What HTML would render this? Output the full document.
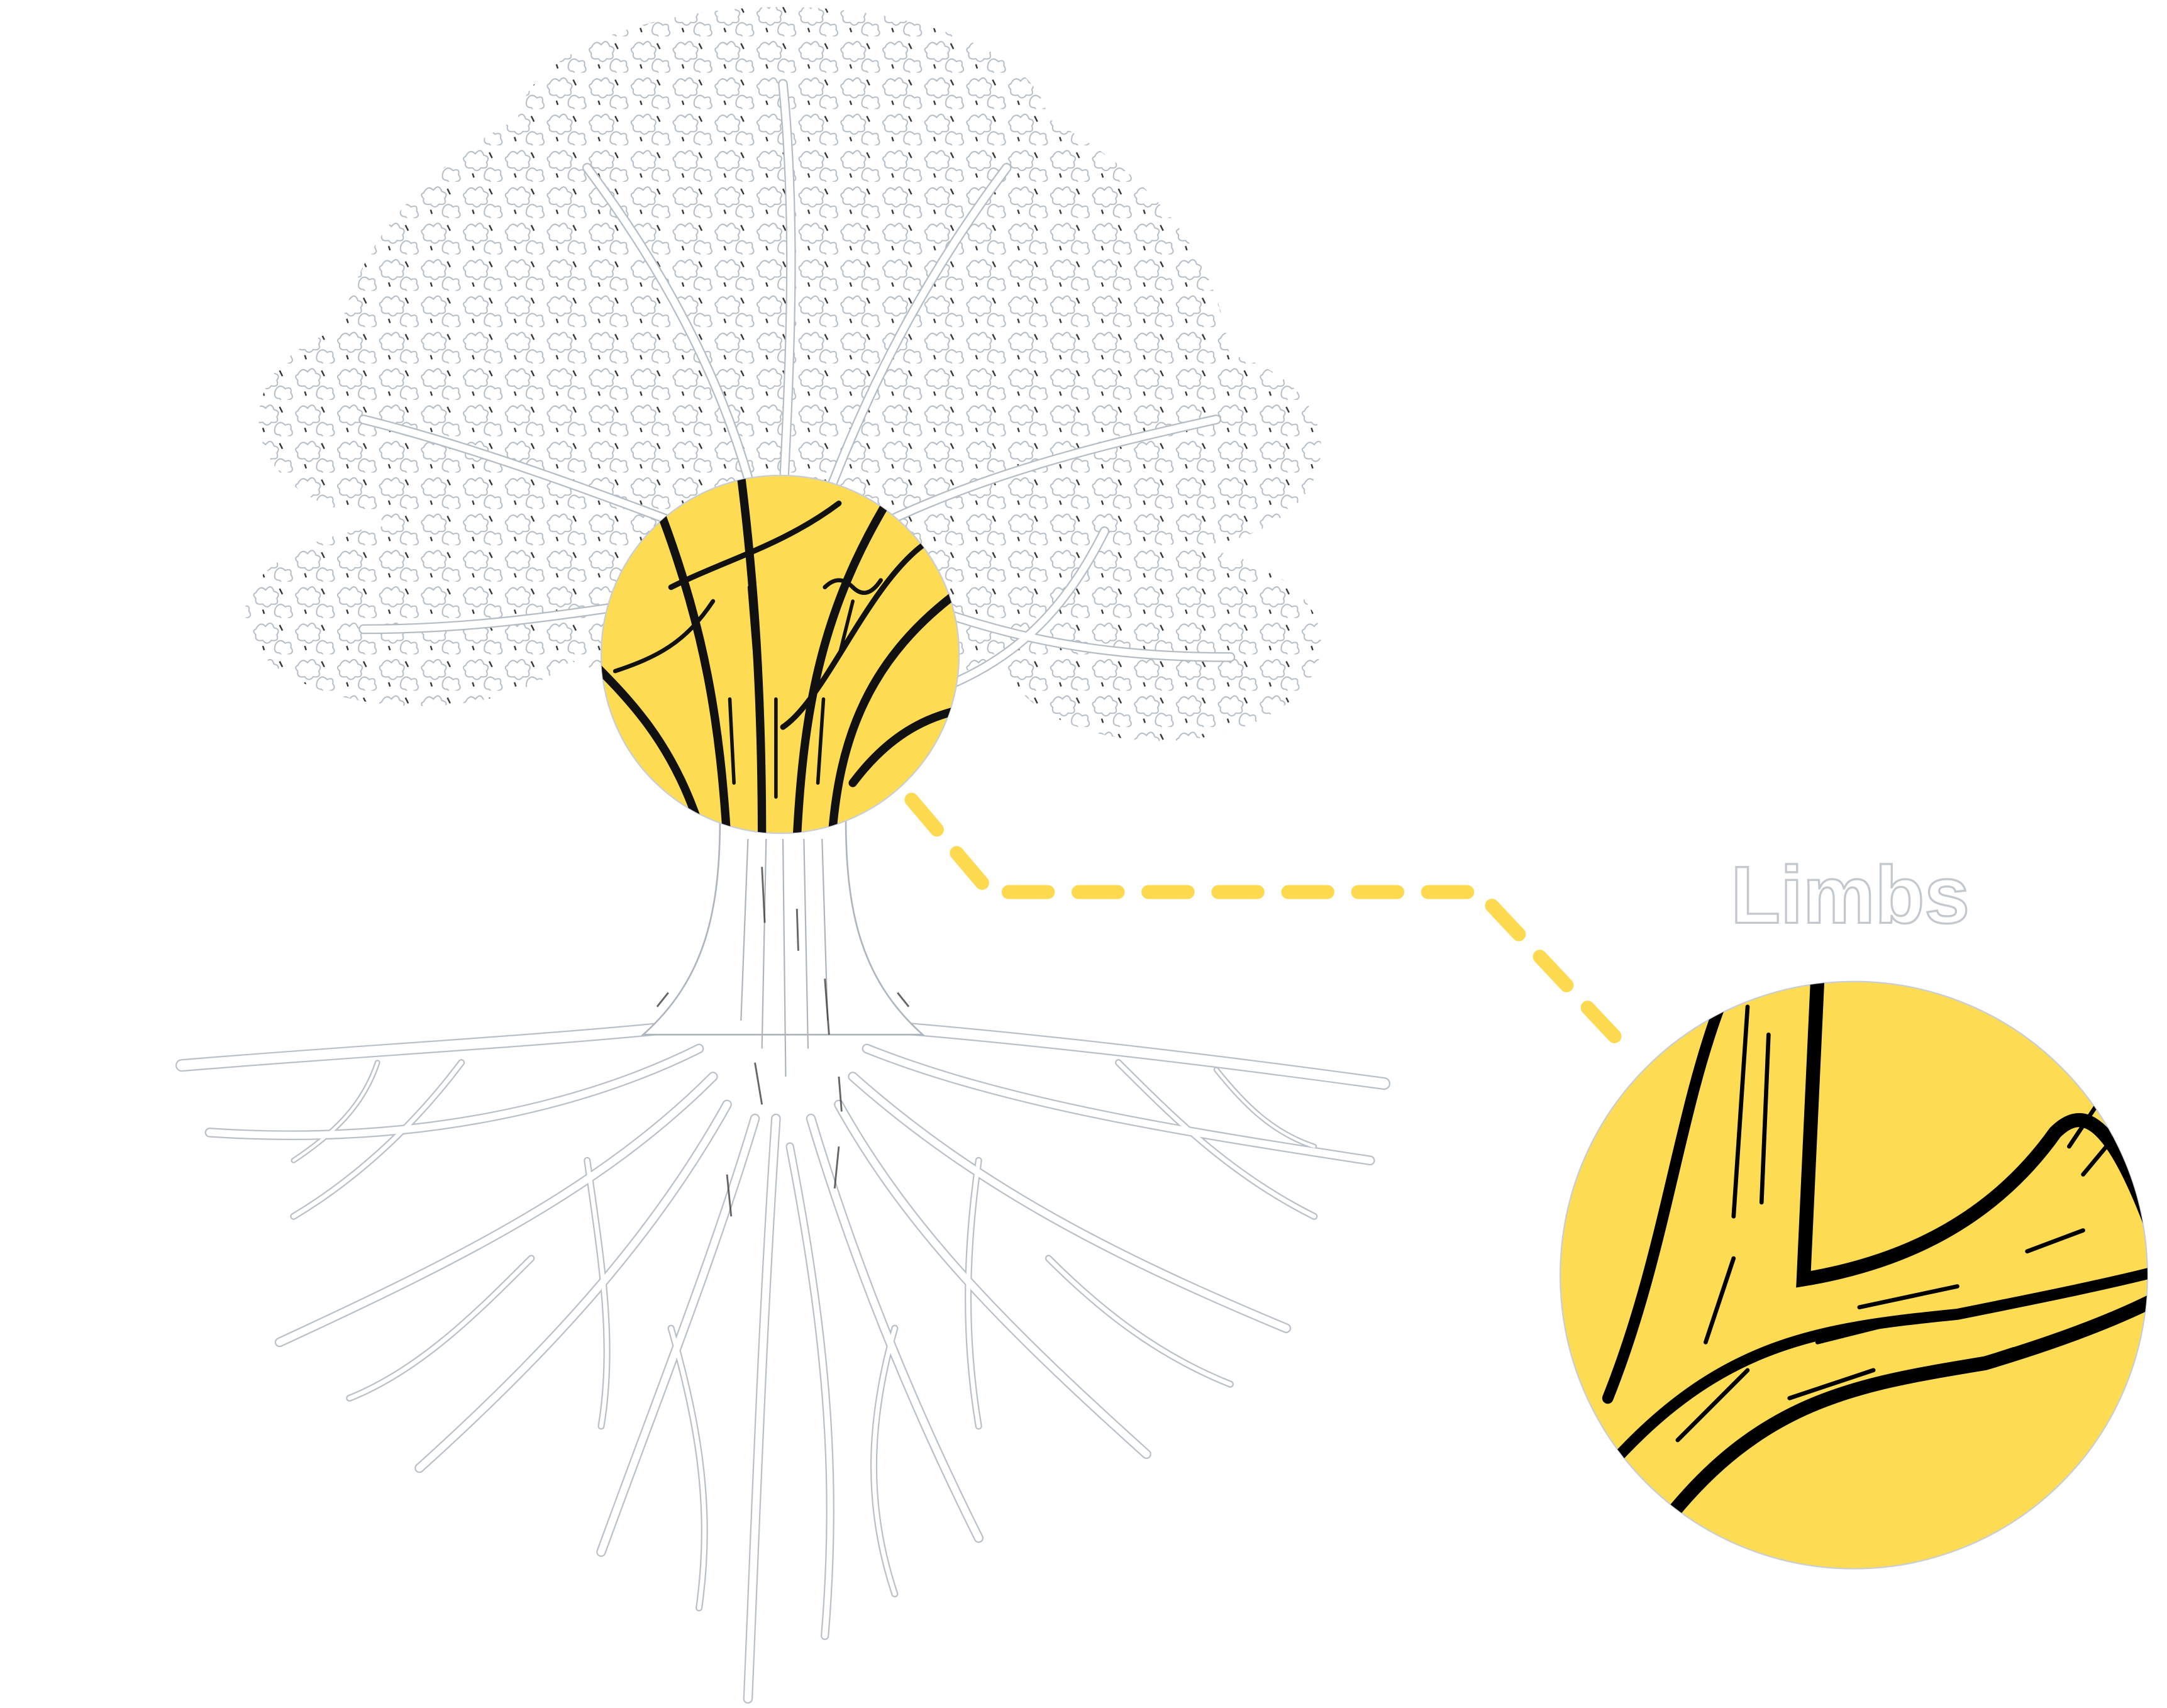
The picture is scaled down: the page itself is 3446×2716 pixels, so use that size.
<!DOCTYPE html>
<html><head><meta charset="utf-8">
<style>
html,body{margin:0;padding:0;background:#fff;}
svg{display:block;}
</style></head>
<body>
<svg width="3446" height="2716" viewBox="0 0 1550 1221.6" preserveAspectRatio="none" xmlns="http://www.w3.org/2000/svg">
<defs>
<clipPath id="c1"><circle cx="558" cy="468" r="128"/></clipPath>
<clipPath id="c2"><circle cx="1326" cy="912" r="210"/></clipPath>
<clipPath id="folc">
<ellipse cx="560" cy="270" rx="320" ry="230"/>
<ellipse cx="560" cy="90" rx="190" ry="85"/>
<ellipse cx="300" cy="440" rx="125" ry="65"/>
<ellipse cx="830" cy="460" rx="115" ry="70"/>
<ellipse cx="280" cy="300" rx="95" ry="70"/>
<ellipse cx="850" cy="320" rx="95" ry="70"/>
</clipPath>
<pattern id="leaf" width="30" height="26" patternUnits="userSpaceOnUse">
<path d="M3 8 q3 -6 7 -2 q4 -5 6 1 q5 1 2 5 q2 5 -4 4 q-3 4 -6 0 q-6 1 -5 -4 q-3 -3 0 -4z" fill="none" stroke="#b4bcc5" stroke-width="0.9"/>
<path d="M17 19 q3 -5 7 -1 q5 -2 4 3 q3 4 -2 5 q-3 3 -6 -1 q-5 0 -3 -6z" fill="none" stroke="#b4bcc5" stroke-width="0.9"/>
<path d="M20 5 l2 4 M8 20 l1 3" stroke="#333" stroke-width="1.1"/>
</pattern>
</defs>
<rect width="1550" height="1222" fill="#fff"/>

<!-- foliage -->
<rect x="170" y="0" width="800" height="600" fill="url(#leaf)" clip-path="url(#folc)"/>
<!-- branches inside foliage (outlined) -->
<g fill="none" stroke-linecap="round">
<g stroke="#b4bcc5" stroke-width="7">
<path d="M540 360 C520 280 480 200 420 120"/>
<path d="M560 360 C565 260 570 160 560 60"/>
<path d="M590 360 C620 280 660 200 720 120"/>
<path d="M620 380 C700 340 780 320 870 300"/>
<path d="M500 380 C420 350 340 320 260 300"/>
<path d="M470 430 C400 440 340 450 260 450"/>
<path d="M680 440 C740 460 800 470 880 470"/>
<path d="M650 500 C720 480 760 440 790 380"/>
</g>
<g stroke="#fff" stroke-width="5">
<path d="M540 360 C520 280 480 200 420 120"/>
<path d="M560 360 C565 260 570 160 560 60"/>
<path d="M590 360 C620 280 660 200 720 120"/>
<path d="M620 380 C700 340 780 320 870 300"/>
<path d="M500 380 C420 350 340 320 260 300"/>
<path d="M470 430 C400 440 340 450 260 450"/>
<path d="M680 440 C740 460 800 470 880 470"/>
<path d="M650 500 C720 480 760 440 790 380"/>
</g>
</g>

<!-- roots (outlined) -->
<g fill="none" stroke-linecap="round" stroke-linejoin="round">
<g stroke="#b9c0c8">
<path stroke-width="9" d="M480 735 C380 745 250 752 130 762"/>
<path stroke-width="9" d="M640 735 C760 745 880 760 990 775"/>
<path stroke-width="7" d="M500 750 C420 790 300 820 150 810"/>
<path stroke-width="7" d="M620 750 C720 790 850 810 980 830"/>
<path stroke-width="7" d="M510 770 C430 850 330 900 200 960"/>
<path stroke-width="7" d="M610 770 C700 850 800 900 920 950"/>
<path stroke-width="7" d="M520 790 C470 880 400 960 300 1050"/>
<path stroke-width="7" d="M600 790 C650 880 720 950 820 1040"/>
<path stroke-width="7" d="M540 800 C510 900 470 1000 430 1110"/>
<path stroke-width="7" d="M580 800 C610 900 650 1000 700 1100"/>
<path stroke-width="7" d="M555 800 C545 950 540 1100 535 1215"/>
<path stroke-width="6" d="M565 820 C590 950 600 1050 590 1170"/>
<path stroke-width="5" d="M330 760 C300 800 260 840 210 870"/>
<path stroke-width="5" d="M800 760 C840 800 880 840 940 870"/>
<path stroke-width="5" d="M420 830 C430 900 440 960 430 1020"/>
<path stroke-width="5" d="M700 830 C690 900 690 960 700 1020"/>
<path stroke-width="5" d="M380 900 C340 940 300 980 250 1000"/>
<path stroke-width="5" d="M750 900 C790 940 830 970 880 990"/>
<path stroke-width="5" d="M480 950 C500 1020 510 1080 500 1150"/>
<path stroke-width="5" d="M640 950 C620 1020 620 1080 640 1140"/>
<path stroke-width="4" d="M270 760 C260 790 240 810 210 830"/>
<path stroke-width="4" d="M870 765 C890 790 910 810 940 820"/>
</g>
<g stroke="#fff">
<path stroke-width="7" d="M480 735 C380 745 250 752 130 762"/>
<path stroke-width="7" d="M640 735 C760 745 880 760 990 775"/>
<path stroke-width="5" d="M500 750 C420 790 300 820 150 810"/>
<path stroke-width="5" d="M620 750 C720 790 850 810 980 830"/>
<path stroke-width="5" d="M510 770 C430 850 330 900 200 960"/>
<path stroke-width="5" d="M610 770 C700 850 800 900 920 950"/>
<path stroke-width="5" d="M520 790 C470 880 400 960 300 1050"/>
<path stroke-width="5" d="M600 790 C650 880 720 950 820 1040"/>
<path stroke-width="5" d="M540 800 C510 900 470 1000 430 1110"/>
<path stroke-width="5" d="M580 800 C610 900 650 1000 700 1100"/>
<path stroke-width="5" d="M555 800 C545 950 540 1100 535 1215"/>
<path stroke-width="4" d="M565 820 C590 950 600 1050 590 1170"/>
<path stroke-width="3" d="M330 760 C300 800 260 840 210 870"/>
<path stroke-width="3" d="M800 760 C840 800 880 840 940 870"/>
<path stroke-width="3" d="M420 830 C430 900 440 960 430 1020"/>
<path stroke-width="3" d="M700 830 C690 900 690 960 700 1020"/>
<path stroke-width="3" d="M380 900 C340 940 300 980 250 1000"/>
<path stroke-width="3" d="M750 900 C790 940 830 970 880 990"/>
<path stroke-width="3" d="M480 950 C500 1020 510 1080 500 1150"/>
<path stroke-width="3" d="M640 950 C620 1020 620 1080 640 1140"/>
<path stroke-width="2" d="M270 760 C260 790 240 810 210 830"/>
<path stroke-width="2" d="M870 765 C890 790 910 810 940 820"/>
</g>
</g>

<!-- trunk -->
<path d="M515 585 C515 650 505 700 460 740 L660 740 C615 700 605 650 605 585 Z" fill="#fff" stroke="#aeb5bd" stroke-width="1.2"/>
<g fill="none" stroke="#aeb5bd" stroke-width="1">
<path d="M535 600 L530 730 M548 600 L545 750 M560 600 L562 770 M575 600 L578 750 M588 600 L592 730"/>
</g>
<g stroke="#333" stroke-width="1.3" fill="none" opacity="0.75">
<path d="M545 620 l2 40 M570 650 l1 30 M590 700 l3 40 M540 760 l5 30 M600 770 l2 25 M470 720 l8 -10 M650 720 l-8 -10 M520 840 l3 30 M600 820 l-3 30"/>
</g>

<!-- small circle -->
<circle cx="558" cy="468" r="128" fill="#fddb52" stroke="#c9ced3" stroke-width="1"/>
<g clip-path="url(#c1)" fill="none" stroke="#111" stroke-width="6" stroke-linecap="round">
<path d="M520 600 C515 520 505 450 470 360"/>
<path d="M545 600 C545 500 540 420 530 340"/>
<path d="M570 600 C575 500 590 430 640 350"/>
<path d="M595 600 C600 530 620 470 690 420"/>
<path d="M500 590 C480 530 450 500 420 470"/>
<path d="M610 560 C640 520 670 510 700 505"/>
<path d="M560 520 C590 500 620 420 660 390" stroke-width="4"/>
<path d="M480 420 C520 400 560 390 600 360" stroke-width="4"/>
<path d="M440 480 C470 470 490 460 510 430" stroke-width="3"/>
<path d="M525 560 l-3 -60 M555 570 l0 -70 M585 560 l4 -60 M540 470 l-4 -50 M600 470 l10 -40" stroke-width="2.5"/>
<path d="M590 420 q10 -10 20 0 q10 10 20 -5" stroke-width="3"/>
</g>
<!-- dashed connector -->
<polyline points="652,572 708,638 1058,638 1165,752" fill="none" stroke="#fdd94f" stroke-width="10" stroke-dasharray="28,22" stroke-linecap="round" stroke-linejoin="round"/>
<!-- Limbs -->
<text x="1238" y="660" font-family="Liberation Sans, sans-serif" font-size="58" font-weight="bold" fill="#fff" stroke="#c3c8ce" stroke-width="1.5">Limbs</text>
<!-- big circle -->
<circle cx="1326" cy="912" r="210" fill="#fddb52" stroke="#c9ced3" stroke-width="1"/>
<g clip-path="url(#c2)" fill="none" stroke="#000" stroke-linecap="round">
<path d="M1300 700 L1290 915 C1350 905 1420 880 1470 810 C1490 790 1510 800 1540 880" stroke-width="10"/>
<path d="M1230 720 C1200 800 1190 900 1150 1000" stroke-width="8"/>
<path d="M1150 1050 C1230 960 1300 950 1400 940 C1450 930 1500 920 1540 910" stroke-width="8"/>
<path d="M1190 1090 C1260 1000 1330 990 1420 975 C1470 960 1510 945 1540 930" stroke-width="10"/>
<path d="M1250 720 l-10 150 M1265 740 l-5 120 M1240 900 l-20 60 M1300 960 l60 -15 M1330 935 l70 -15 M1450 895 l40 -15 M1480 820 l20 -30 M1490 840 l25 -30" stroke-width="3"/>
<path d="M1200 1030 l50 -50 M1280 1000 l60 -20 M1380 985 l60 -20" stroke-width="3"/>
</g>
</svg>
</body></html>
